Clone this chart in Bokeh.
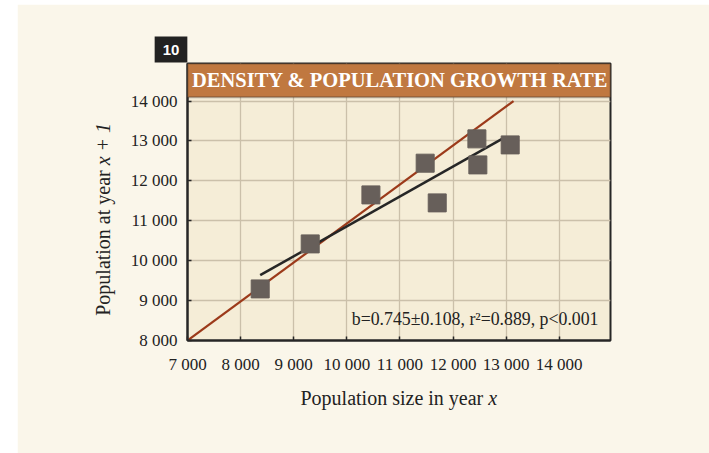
import math
from bokeh.plotting import figure
from bokeh.models import Range1d, FixedTicker, Label, BoxAnnotation, ColumnDataSource
from bokeh.embed import file_html
from bokeh.resources import INLINE

# ---------------- data ----------------
pop_x = [8369, 9311, 10454, 11476, 11703, 12450, 12468, 13077]
pop_x1 = [9293, 10421, 11649, 12444, 11449, 13053, 12401, 12902]

ref_line_x = [7000, 13140]
ref_line_y = [8000, 14000]

fit_line_x = [8369, 12983]
fit_line_y = [9637, 13095]

x_ticks = [7000, 8000, 9000, 10000, 11000, 12000, 13000, 14000]
x_tick_labels = ["7 000", "8 000", "9 000", "10 000", "11 000", "12 000", "13 000", "14 000"]
y_ticks = [8000, 9000, 10000, 11000, 12000, 13000, 14000]
y_tick_labels = ["8 000", "9 000", "10 000", "11 000", "12 000", "13 000", "14 000"]

title_text = "DENSITY & POPULATION GROWTH RATE"
badge_text = "10"
stats_text = "b=0.745\u00b10.108, r\u00b2=0.889, p<0.001"

# ---------------- style ----------------
PAGE = "#faf6ea"
FRAME = "#f5edd7"
DARK = "#262626"
GRID = "#cbc0aa"
BAR = "#c07840"
MARK = "#675f5a"
RED = "#9c3a1a"
SERIF = "Liberation Serif"

X0, X1 = 7000, 14966
Y0, Y1 = 8000, 14942

p = figure(width=692, height=449,
           x_range=Range1d(X0, X1), y_range=Range1d(Y0, Y1),
           output_backend="svg", toolbar_location=None,
           min_border_left=170, min_border_right=99,
           min_border_top=59, min_border_bottom=113,
           background_fill_color=FRAME, border_fill_color=PAGE)
p.margin = (4, 0, 0, 17)

p.outline_line_color = DARK
p.outline_line_width = 2

# frame pixel geometry (page coordinates) for label placement helpers
FL, FB = 187.0, 340.0
SX = 423.0 / (X1 - X0)
SY = 277.0 / (Y1 - Y0)

def dx(px):
    return X0 + (px - FL) / SX

def dy(py):
    return Y0 + (FB - py) / SY

for ax, ticks, labels, stand in ((p.xaxis[0], x_ticks, x_tick_labels, 14),
                                 (p.yaxis[0], y_ticks, y_tick_labels, 10)):
    ax.ticker = FixedTicker(ticks=ticks)
    ax.major_label_overrides = dict(zip(ticks, labels))
    ax.axis_line_color = DARK
    ax.axis_line_width = 2
    ax.major_tick_in = 4
    ax.major_tick_out = 0
    ax.major_tick_line_color = DARK
    ax.major_tick_line_width = 1.5
    ax.minor_tick_line_color = None
    ax.major_label_text_font = SERIF
    ax.major_label_text_font_size = "17px"
    ax.major_label_text_color = "#222222"
    ax.major_label_standoff = stand

p.grid.grid_line_color = GRID
p.grid.grid_line_width = 1.3

# lines and points
p.line(ref_line_x, ref_line_y, line_color=RED, line_width=2.2)
p.line(fit_line_x, fit_line_y, line_color=DARK, line_width=2.5)
src = ColumnDataSource(dict(x=pop_x, y=pop_x1))
p.scatter("x", "y", source=src, marker="square", size=18,
          fill_color=MARK, line_color=MARK)

# title bar
p.add_layout(BoxAnnotation(bottom=dy(96.7), fill_color=BAR, fill_alpha=1.0,
                           line_color=DARK, line_width=2, level="annotation"))
p.add_layout(Label(x=(X0 + X1) / 2 + 20, y=dy(79.5), text=title_text,
                   text_align="center", text_baseline="alphabetic",
                   text_font=SERIF, text_font_style="bold",
                   text_font_size="20.5px", text_color="white"))

# statistics text
p.add_layout(Label(x=dx(598), y=dy(318), text=stats_text,
                   text_align="right", text_baseline="middle",
                   text_font=SERIF, text_font_size="17.8px", text_color="#222222"))

# badge (side panel so it is not clipped to the frame)
p.add_layout(Label(x=dx(170.5), y=dy(49), text=badge_text,
                   text_align="center", text_baseline="middle",
                   text_font="Liberation Sans", text_font_style="bold",
                   text_font_size="15px", text_color="white",
                   background_fill_color="#222222", padding=8), "above")

# x axis title: "Population size in year x"
p.add_layout(Label(x=dx(300), y=dy(397), text="Population size in year ",
                   text_align="left", text_baseline="alphabetic",
                   text_font=SERIF, text_font_size="20px", text_color="#222222"), "below")
p.add_layout(Label(x=dx(487.8), y=dy(397), text="x",
                   text_align="left", text_baseline="alphabetic",
                   text_font=SERIF, text_font_style="italic",
                   text_font_size="20px", text_color="#222222"), "below")

# y axis title: "Population at year x + 1"
ya = math.pi / 2
p.add_layout(Label(x=dx(102), y=dy(315.3), text="Population at year ", angle=ya,
                   text_align="left", text_baseline="alphabetic",
                   text_font=SERIF, text_font_size="20px", text_color="#222222"), "left")
p.add_layout(Label(x=dx(102), y=dy(164.8), text="x + 1", angle=ya,
                   text_align="left", text_baseline="alphabetic",
                   text_font=SERIF, text_font_style="italic",
                   text_font_size="20px", text_color="#222222"), "left")

open("out.html", "w").write(file_html(p, INLINE))
